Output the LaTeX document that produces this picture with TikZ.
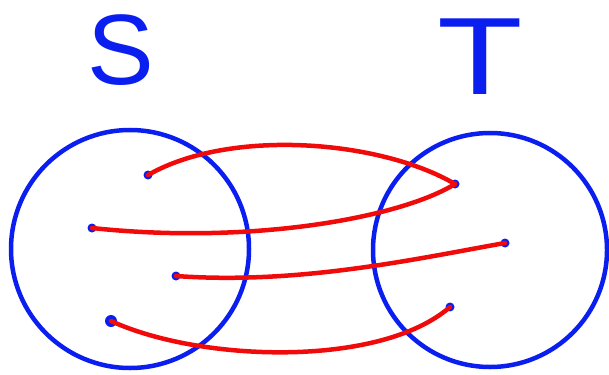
\documentclass[tikz,border=0pt]{standalone}
\usepackage{fontspec}
\setmainfont{Liberation Sans}
\usepackage{xcolor}
\definecolor{SetBlue}{RGB}{10,30,240}
\definecolor{MapRed}{RGB}{240,10,10}
\tikzset{
  setcircle/.style={draw=SetBlue,line width=4.5pt,circle,inner sep=0pt},
  setlabel/.style={text=SetBlue,inner sep=0pt,font=\fontsize{100}{100}\selectfont},
  elemdot/.style={circle,fill=SetBlue,inner sep=0pt,minimum size=9pt},
  maparrow/.style={draw=MapRed,line width=4.5pt,line cap=round},
}
\begin{document}
\begin{tikzpicture}[x=1pt,y=-1pt]
  \useasboundingbox (0,0) rectangle (609,374);
  % the two sets
  \node[setcircle,minimum size=238pt] (S) at (130,249) {};
  \node[setcircle,minimum size=234pt] (T) at (490,250) {};
  \node[setlabel] (Slabel) at (121,50) {S};
  \node[setlabel,xscale=1.4,yscale=1.1] (Tlabel) at (480,57) {T};
  % elements
  \node[elemdot] (s1) at (148,175) {};
  \node[elemdot] (s2) at (92,228) {};
  \node[elemdot] (s3) at (176,276) {};
  \node[elemdot,minimum size=12pt] (s4) at (111,321) {};
  \node[elemdot] (t1) at (455,184) {};
  \node[elemdot] (t2) at (505,243) {};
  \node[elemdot] (t3) at (450,307) {};
  % the mapping
  \draw[maparrow] (s1.center) .. controls (230,128) and (380,140) .. (t1.center);
  \draw[maparrow] (s2.center) .. controls (250,245) and (400,218) .. (t1.center);
  \draw[maparrow] (s3.center) .. controls (300,285) and (420,258) .. (t2.center);
  \draw[maparrow] (s4.center) .. controls (200,362) and (380,368) .. (t3.center);
\end{tikzpicture}
\end{document}
